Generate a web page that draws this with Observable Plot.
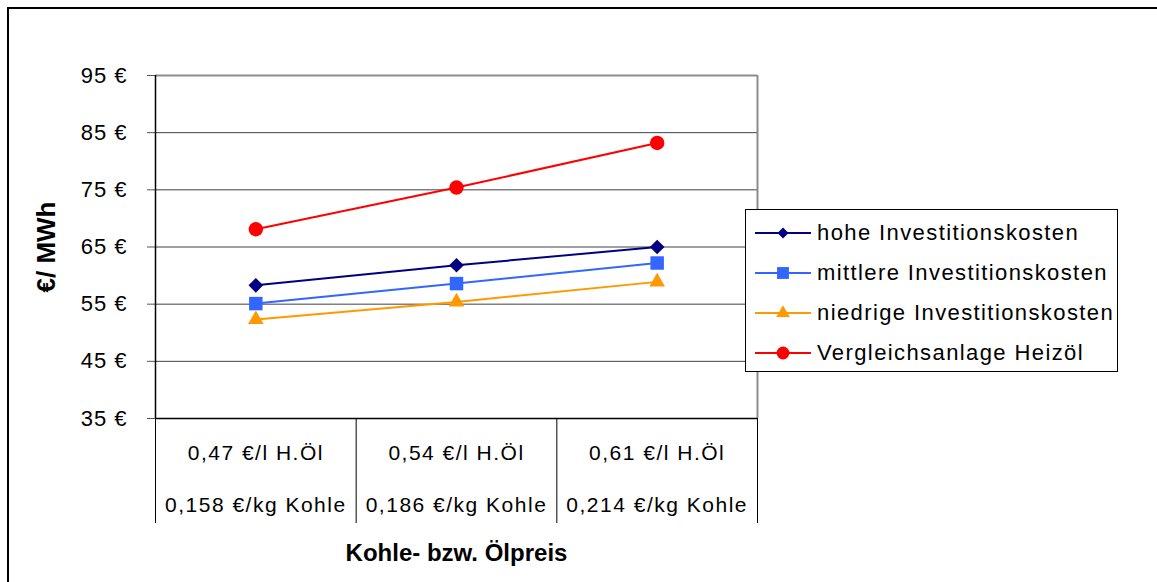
<!DOCTYPE html>
<html><head><meta charset="utf-8">
<script src="https://cdn.jsdelivr.net/npm/d3@7"></script>
<script src="https://cdn.jsdelivr.net/npm/@observablehq/plot@0.6"></script>
<style>
body{margin:0;background:#fff;}
#wrap{position:relative;width:1157px;height:582px;overflow:hidden;font-family:"Liberation Sans",Arial,sans-serif;}
#border{position:absolute;left:7px;top:7px;width:1200px;height:600px;border-top:2px solid #000;border-left:2px solid #000;}
#chart{position:absolute;left:0;top:0;}
#legend{position:absolute;left:745px;top:209px;width:373px;height:163px;border:1px solid #000;box-sizing:border-box;background:#fff;}
.item{position:absolute;left:9px;height:40px;display:flex;align-items:center;font-size:22px;letter-spacing:1.4px;color:#000;white-space:nowrap;}
.item svg{margin-right:6px;overflow:visible;}
</style>
</head><body>
<div id="wrap"><div id="border"></div><div id="chart"></div><div id="legend"></div></div>
<script>
// ---- data ----
const catLine1 = ["0,47 €/l H.Öl", "0,54 €/l H.Öl", "0,61 €/l H.Öl"];
const catLine2 = ["0,158 €/kg Kohle", "0,186 €/kg Kohle", "0,214 €/kg Kohle"];
const seriesNames = ["hohe Investitionskosten", "mittlere Investitionskosten", "niedrige Investitionskosten", "Vergleichsanlage Heizöl"];
const hohe = [58.3, 61.8, 65.0];
const mittlere = [55.1, 58.6, 62.2];
const niedrige = [52.3, 55.4, 58.9];
const heizoel = [68.1, 75.4, 83.2];
const yTicks = [35, 45, 55, 65, 75, 85, 95];
const gridValues = [45, 55, 65, 75, 85];
const xTitle = "Kohle- bzw. Ölpreis";
const yTitle = "€/ MWh";

// ---- styling ----
const seriesValues = [hohe, mittlere, niedrige, heizoel];
const colors = ["#000080", "#3366FF", "#FF9900", "#FF0000"];
const symbols = ["diamond2", "square", "triangle", "circle"];
const radii = [6.6, 7.6, 5.8, 7.2];
const idx = catLine1.map((_, i) => i);

const series = seriesNames.map((name, k) => ({
  name, color: colors[k], symbol: symbols[k], r: radii[k],
  rows: seriesValues[k].map((v, i) => ({i, v}))
}));

const marks = [
  Plot.ruleY(gridValues, {stroke: "#404040", strokeWidth: 1}),
  Plot.ruleY([95], {stroke: "#8c8c8c", strokeWidth: 2}),
  Plot.ruleX([2.5], {stroke: "#8c8c8c", strokeWidth: 2}),
  Plot.axisY({ticks: yTicks, tickFormat: d => d + " €", tickSize: 8, tickPadding: 20, label: null, fontSize: 22, stroke: "#555"}),
  Plot.axisX({ticks: [-0.5, 0.5, 1.5, 2.5], tickSize: 105, tickFormat: () => "", label: null, stroke: "#000"}),
  Plot.ruleX([-0.5], {stroke: "#000", strokeWidth: 1.5}),
  Plot.ruleY([35], {stroke: "#000", strokeWidth: 1.5}),
  Plot.text(idx, {x: d => d, y: () => 35, text: d => catLine1[d], dy: 35, lineAnchor: "middle", fontSize: 21}),
  Plot.text(idx, {x: d => d, y: () => 35, text: d => catLine2[d], dy: 87, lineAnchor: "middle", fontSize: 21}),
  Plot.text([xTitle], {frameAnchor: "bottom", dy: 135, textAnchor: "middle", lineAnchor: "middle", fontWeight: "bold", fontSize: 24}),
  Plot.text([yTitle], {frameAnchor: "left", dx: -109, rotate: -90, textAnchor: "middle", lineAnchor: "middle", fontWeight: "bold", fontSize: 26})
];
for (const s of series) {
  marks.push(Plot.line(s.rows, {x: "i", y: "v", stroke: s.color, strokeWidth: 2}));
  marks.push(Plot.dot(s.rows, {x: "i", y: "v", fill: s.color, stroke: "none", symbol: s.symbol, r: s.r}));
}

const chart = Plot.plot({
  width: 1157, height: 582,
  marginLeft: 155, marginRight: 400, marginTop: 75, marginBottom: 164,
  style: {fontFamily: '"Liberation Sans", Arial, sans-serif', fontSize: "21px", background: "transparent", color: "#000", letterSpacing: "1.5px", overflow: "visible"},
  x: {domain: [-0.5, 2.5]},
  y: {domain: [35, 95]},
  marks
});
document.getElementById("chart").appendChild(chart);
// titles without extra spacing, tick labels slightly tighter
d3.select(chart).selectAll("text").each(function() {
  const t = this.textContent;
  if (t === xTitle || t === yTitle) this.style.letterSpacing = "0px";
  else if (yTicks.some(v => t === v + " €")) this.style.letterSpacing = "1px";
});

// legend
const legend = d3.select("#legend");
series.forEach((s, k) => {
  const item = legend.append("div").attr("class", "item").style("top", (3 + k * 40) + "px");
  const svg = item.append("svg").attr("width", 56).attr("height", 20);
  svg.append("line").attr("x1", 0).attr("x2", 56).attr("y1", 10).attr("y2", 10).attr("stroke", s.color).attr("stroke-width", 2);
  const symMap = {diamond2: d3.symbolDiamond2, square: d3.symbolSquare, triangle: d3.symbolTriangle, circle: d3.symbolCircle};
  const sizes = [0.6, 0.75, 0.7, 0.75];
  svg.append("path").attr("transform", "translate(28,10)")
    .attr("d", d3.symbol(symMap[s.symbol], Math.PI * (s.r * sizes[k] + 1) ** 2)())
    .attr("fill", s.color);
  item.append("span").text(s.name);
});
</script>
</body></html>
